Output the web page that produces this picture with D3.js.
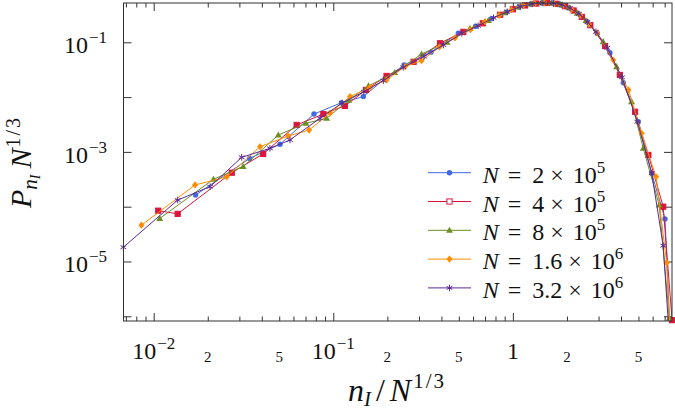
<!DOCTYPE html>
<html><head><meta charset="utf-8">
<script src="https://cdn.jsdelivr.net/npm/d3@7"></script>
<style>
body{margin:0;background:#fff;}
svg{display:block;}
svg text{font-family:'Liberation Serif','Times New Roman',Times,serif;fill:#111;}
</style></head><body>
<svg id="chart" width="675" height="417"></svg>
<script>
// ---------- data ----------
const legendMantissa = ["2", "4", "8", "1.6", "3.2"];
const legendExponent = ["5", "5", "5", "6", "6"];
const seriesColors = ["#4169e1", "#dc143c", "#6b8e23", "#ff8c00", "#5b2a94"];
const seriesMarks = ["circle", "square", "triangle", "diamond", "asterisk"];

const x2e5 = [0.0171, 0.0342, 0.0505, 0.0781, 0.111, 0.147, 0.195, 0.248, 0.35, 0.497, 0.62, 0.76, 0.92, 1.08, 1.26, 1.45, 1.65, 1.85, 2.05, 2.3, 2.6, 2.95, 3.47, 4.12, 4.99, 5.93, 7.03, 7.5];
const y2e5 = [1.63e-4, 7.6e-4, 1.38e-3, 4.9e-3, 7.9e-3, 1.02e-2, 2.2e-2, 3.86e-2, 6.6e-2, 0.146, 0.196, 0.27, 0.355, 0.44, 0.50, 0.52, 0.52, 0.48, 0.425, 0.336, 0.234, 0.145, 0.0646, 0.0183, 3.56e-3, 4.07e-4, 5.97e-5, 5e-7];

const x4e5 = [0.0106, 0.0136, 0.0272, 0.0407, 0.0625, 0.088, 0.116, 0.152, 0.198, 0.28, 0.393, 0.53, 0.68, 0.85, 1.0, 1.17, 1.35, 1.55, 1.75, 1.95, 2.18, 2.42, 2.7, 3.26, 3.94, 4.79, 5.68, 6.87, 7.7];
const y4e5 = [8.45e-5, 7.4e-5, 4.17e-4, 9.2e-4, 3.1e-3, 4.9e-3, 6.9e-3, 1.35e-2, 2.43e-2, 4.4e-2, 9.6e-2, 0.155, 0.222, 0.318, 0.40, 0.47, 0.51, 0.522, 0.505, 0.455, 0.38, 0.29, 0.205, 0.0855, 0.0253, 5.4e-3, 8.8e-4, 1.0e-4, 8.5e-7];

const x8e5 = [0.0108, 0.0215, 0.0315, 0.0494, 0.0705, 0.0918, 0.122, 0.157, 0.22, 0.31, 0.43, 0.577, 0.73, 0.9, 1.07, 1.25, 1.44, 1.64, 1.84, 2.05, 2.28, 2.55, 3.18, 3.78, 4.58, 5.32, 6.53, 7.43];
const y8e5 = [6.1e-5, 3.16e-4, 5.4e-4, 2.03e-3, 3.33e-3, 4.1e-3, 8.8e-3, 1.6e-2, 2.8e-2, 6.1e-2, 0.10, 0.18, 0.25, 0.345, 0.44, 0.50, 0.525, 0.52, 0.485, 0.425, 0.34, 0.25, 0.1026, 0.0359, 8.24e-3, 1.16e-3, 1.07e-4, 9.2e-7];

const x16e6 = [0.00855, 0.017, 0.0255, 0.0391, 0.0561, 0.0733, 0.0959, 0.124, 0.16, 0.198, 0.251, 0.31, 0.39, 0.476, 0.58, 0.699, 0.84, 0.98, 1.14, 1.32, 1.5, 1.7, 1.9, 2.12, 2.37, 2.65, 2.95, 3.62, 4.40, 5.21, 6.27, 7.18, 7.5];
const y16e6 = [4.6e-5, 2.49e-4, 3.5e-4, 1.24e-3, 1.95e-3, 2.5e-3, 5.1e-3, 1.02e-2, 1.5e-2, 2.05e-2, 3.6e-2, 4.6e-2, 8.2e-2, 0.12, 0.17, 0.238, 0.31, 0.39, 0.47, 0.51, 0.525, 0.51, 0.47, 0.40, 0.31, 0.215, 0.148, 0.0475, 0.0135, 2.18e-3, 3.52e-4, 9.5e-6, 5e-7];

const x32e6 = [0.00678, 0.0136, 0.0206, 0.0309, 0.0444, 0.0574, 0.0843, 0.112, 0.148, 0.19, 0.245, 0.32, 0.41, 0.52, 0.64, 0.78, 0.93, 1.1, 1.28, 1.47, 1.68, 1.88, 2.08, 2.33, 2.6, 2.9, 3.35, 4.05, 4.93, 5.93, 6.87, 7.4];
const y32e6 = [1.82e-5, 1.32e-4, 2.32e-4, 7.96e-4, 1.16e-3, 1.65e-3, 4.1e-3, 7.8e-3, 1.25e-2, 2.0e-2, 3.5e-2, 5.5e-2, 8.9e-2, 0.145, 0.20, 0.28, 0.36, 0.45, 0.50, 0.52, 0.515, 0.48, 0.42, 0.33, 0.235, 0.155, 0.079, 0.023, 3.55e-3, 4.07e-4, 1.94e-5, 5e-7];

const xMajorTicks = [0.01, 0.1, 1];
const xMinorTicks = [0.007, 0.008, 0.009, 0.02, 0.03, 0.04, 0.05, 0.06, 0.07, 0.08, 0.09, 0.2, 0.3, 0.4, 0.5, 0.6, 0.7, 0.8, 0.9, 2, 3, 4, 5, 6, 7];
const xMajorLabels = [["10", "−2"], ["10", "−1"], ["1", ""]];
const xMinorLabelTicks = [0.02, 0.05, 0.2, 0.5, 2, 5];
const xMinorLabels = ["2", "5", "2", "5", "2", "5"];
const yTicks = [1e-1, 1e-2, 1e-3, 1e-4, 1e-5, 1e-6];
const yLabelTicks = [1e-1, 1e-3, 1e-5];
const yLabels = [["10", "−1"], ["10", "−3"], ["10", "−5"]];

// ---------- layout ----------
const FONT = "'Liberation Serif','Times New Roman',Times,serif";
const P = {left: 123.5, right: 672, top: 3, bottom: 321};
const svg = d3.select("#chart").attr("font-family", FONT);
const x = d3.scaleLog().domain([0.00679, 7.69]).range([P.left, P.right]);
const y = d3.scaleLog().domain([8.2e-7, 0.521]).range([P.bottom, P.top]);
const axisColor = "#333";

svg.append("defs").append("clipPath").attr("id", "clip")
  .append("rect").attr("x", P.left).attr("y", P.top)
  .attr("width", P.right - P.left).attr("height", P.bottom - P.top);

function styleAxis(g) {
  g.select(".domain").remove();
  g.selectAll("line").attr("stroke", axisColor).attr("stroke-width", 1);
  g.selectAll("text").remove();
}
const MAJ = 8, MIN = 4.5, YT = 8;
svg.append("g").attr("transform", `translate(0,${P.bottom})`)
  .call(d3.axisBottom(x).tickValues(xMajorTicks).tickSize(-MAJ).tickFormat("")).call(styleAxis);
svg.append("g").attr("transform", `translate(0,${P.bottom})`)
  .call(d3.axisBottom(x).tickValues(xMinorTicks).tickSize(-MIN).tickFormat("")).call(styleAxis);
svg.append("g").attr("transform", `translate(0,${P.top})`)
  .call(d3.axisTop(x).tickValues(xMajorTicks).tickSize(-MAJ).tickFormat("")).call(styleAxis);
svg.append("g").attr("transform", `translate(0,${P.top})`)
  .call(d3.axisTop(x).tickValues(xMinorTicks).tickSize(-MIN).tickFormat("")).call(styleAxis);
svg.append("g").attr("transform", `translate(${P.left},0)`)
  .call(d3.axisLeft(y).tickValues(yTicks).tickSize(-YT).tickFormat("")).call(styleAxis);
svg.append("g").attr("transform", `translate(${P.right},0)`)
  .call(d3.axisRight(y).tickValues(yTicks).tickSize(-YT).tickFormat("")).call(styleAxis);

function txt(sel) { return sel.append("text").attr("font-family", FONT).attr("fill", "#111"); }

// tick labels
xMajorTicks.forEach((v, i) => {
  const t = txt(svg).attr("x", x(v)).attr("y", 358.5)
    .attr("text-anchor", "middle").attr("font-size", 24);
  t.append("tspan").text(xMajorLabels[i][0]);
  if (xMajorLabels[i][1]) t.append("tspan").attr("dy", -10).attr("dx", 1).attr("font-size", 17).text(xMajorLabels[i][1]);
});
xMinorLabelTicks.forEach((v, i) => {
  txt(svg).attr("x", x(v)).attr("y", 362).attr("text-anchor", "middle")
    .attr("font-size", 15).text(xMinorLabels[i]);
});
yLabelTicks.forEach((v, i) => {
  const t = txt(svg).attr("x", 107).attr("y", y(v) + 11)
    .attr("text-anchor", "end").attr("font-size", 24);
  t.append("tspan").text(yLabels[i][0]);
  t.append("tspan").attr("dy", -10).attr("dx", 1).attr("font-size", 17).text(yLabels[i][1]);
});

// axis titles
const xt = txt(svg).attr("x", 397).attr("y", 401).attr("text-anchor", "middle").attr("font-size", 32);
xt.append("tspan").attr("font-style", "italic").text("n");
xt.append("tspan").attr("font-style", "italic").attr("font-size", 21).attr("dy", 5).text("I");
xt.append("tspan").attr("dy", -5).attr("dx", 5).text("/");
xt.append("tspan").attr("font-style", "italic").attr("dx", 5).text("N");
xt.append("tspan").attr("font-size", 21).attr("dy", -13).attr("dx", 2).attr("letter-spacing", 2).text("1/3");

const yt = txt(svg).attr("transform", "translate(31,162) rotate(-90)")
  .attr("text-anchor", "middle").attr("font-size", 30);
yt.append("tspan").attr("font-style", "italic").text("P");
yt.append("tspan").attr("font-style", "italic").attr("font-size", 21).attr("dy", 6).text("n");
yt.append("tspan").attr("font-style", "italic").attr("font-size", 14).attr("dy", 3).text("I");
yt.append("tspan").attr("font-style", "italic").attr("dy", -9).attr("dx", 6).text("N");
yt.append("tspan").attr("font-size", 20).attr("dy", -11).attr("dx", 1).attr("letter-spacing", 2).text("1/3");

// ---------- series ----------
const seriesX = [x2e5, x4e5, x8e5, x16e6, x32e6];
const seriesY = [y2e5, y4e5, y8e5, y16e6, y32e6];

function drawMark(g, type, color, cx, cy, legend) {
  if (type === "circle") {
    g.append("circle").attr("cx", cx).attr("cy", cy).attr("r", 2.7).attr("fill", color);
  } else if (type === "square") {
    g.append("rect").attr("x", cx - 2.6).attr("y", cy - 2.6).attr("width", 5.2).attr("height", 5.2)
      .attr("fill", legend ? "#fff" : color).attr("stroke", color).attr("stroke-width", 1);
  } else if (type === "triangle") {
    const s = 3.6;
    g.append("path").attr("d", `M${cx},${cy - s}L${cx + s * 0.95},${cy + s * 0.7}L${cx - s * 0.95},${cy + s * 0.7}Z`).attr("fill", color);
  } else if (type === "diamond") {
    const s = 3.6;
    g.append("path").attr("d", `M${cx},${cy - s}L${cx + s * 0.85},${cy}L${cx},${cy + s}L${cx - s * 0.85},${cy}Z`).attr("fill", color);
  } else {
    const r = 3.3;
    const a = Math.PI / 6;
    const d = `M${cx},${cy - r}L${cx},${cy + r}` +
      `M${cx - r * Math.cos(a)},${cy - r * Math.sin(a)}L${cx + r * Math.cos(a)},${cy + r * Math.sin(a)}` +
      `M${cx - r * Math.cos(a)},${cy + r * Math.sin(a)}L${cx + r * Math.cos(a)},${cy - r * Math.sin(a)}`;
    g.append("path").attr("d", d).attr("stroke", color).attr("stroke-width", 1).attr("fill", "none");
  }
}

const line = d3.line().x(d => x(d[0])).y(d => y(d[1]));
seriesX.forEach((xs, i) => {
  const pts = xs.map((v, j) => [v, seriesY[i][j]]);
  const g = svg.append("g");
  g.append("path").datum(pts).attr("d", line).attr("fill", "none")
    .attr("stroke", seriesColors[i]).attr("stroke-width", 1).attr("clip-path", "url(#clip)");
  pts.forEach(p => {
    if (p[1] >= y.domain()[0]) drawMark(g, seriesMarks[i], seriesColors[i], x(p[0]), y(p[1]), false);
  });
});

// frame
svg.append("rect").attr("x", P.left).attr("y", P.top).attr("width", P.right - P.left)
  .attr("height", P.bottom - P.top).attr("fill", "none").attr("stroke", axisColor).attr("stroke-width", 1);

// ---------- legend ----------
const legendY0 = 172.7, legendDy = 28.8;
legendMantissa.forEach((m, i) => {
  const ly = legendY0 + i * legendDy;
  const g = svg.append("g");
  g.append("line").attr("x1", 428).attr("x2", 471).attr("y1", ly).attr("y2", ly)
    .attr("stroke", seriesColors[i]).attr("stroke-width", 1);
  drawMark(g, seriesMarks[i], seriesColors[i], 449.5, ly, true);
  const t = txt(g).attr("x", 482.7).attr("y", ly + 10).attr("font-size", 24);
  t.append("tspan").attr("font-style", "italic").text("N");
  t.append("tspan").attr("dx", 9).text("=");
  t.append("tspan").attr("dx", 11).text(m);
  t.append("tspan").attr("dx", 6).text("×");
  t.append("tspan").attr("dx", 9).text("10");
  t.append("tspan").attr("dy", -10).attr("font-size", 17).text(legendExponent[i]);
});
</script>
</body></html>
